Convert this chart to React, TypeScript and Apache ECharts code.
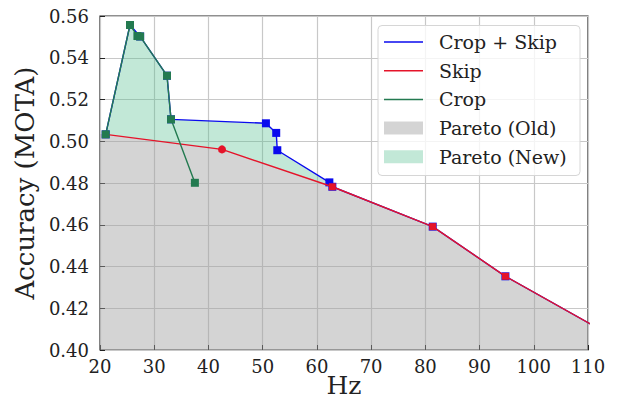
import React, { useEffect, useRef } from "react";
import * as echarts from "echarts";

const xTicks = [20, 30, 40, 50, 60, 70, 80, 90, 100, 110];
const yTicks = [0.4, 0.42, 0.44, 0.46, 0.48, 0.5, 0.52, 0.54, 0.56];

const cropSkipX = [21.05, 25.53, 27.4, 32.36, 33.1, 50.6, 52.5, 52.7, 62.3, 62.85, 81.36, 94.77, 115];
const cropSkipY = [0.5033, 0.5557, 0.5502, 0.5314, 0.5105, 0.5086, 0.504, 0.4957, 0.4803, 0.4782, 0.4591, 0.4353, 0.4058];

const skipX = [21.05, 42.5, 62.85, 81.36, 94.77, 115];
const skipY = [0.5033, 0.4961, 0.4782, 0.4591, 0.4353, 0.4058];
const skipMarkers = ["none", "circle", "rect", "rect", "rect", "rect"];

const cropX = [21.05, 25.53, 26.9, 27.4, 32.36, 33.1, 37.5];
const cropY = [0.5033, 0.5557, 0.5504, 0.5502, 0.5314, 0.5105, 0.4801];

const paretoOldX = [20, 21.05, 42.5, 62.85, 81.36, 94.77, 115];
const paretoOldY = [0.5035, 0.5033, 0.4961, 0.4782, 0.4591, 0.4353, 0.4058];

const paretoNewX = [21.05, 25.53, 27.4, 32.36, 33.1, 50.6, 52.5, 52.7, 62.3, 62.85];
const paretoNewY = [0.5033, 0.5557, 0.5502, 0.5314, 0.5105, 0.5086, 0.504, 0.4957, 0.4803, 0.4782];

const legendLabels = ["Crop + Skip", "Skip", "Crop", "Pareto (Old)", "Pareto (New)"];
const xTitle = "Hz";

const BLUE = "#0a0aee";
const RED = "#e5142a";
const GREEN = "#237a50";
const GRAY_FILL = "rgba(160,160,160,0.45)";
const GREEN_FILL = "rgba(80,190,140,0.35)";
const FONT = "DejaVu Serif";

function zip(xs: number[], ys: number[]) {
  return xs.map((x, i) => [x, ys[i]]);
}

export default function App() {
  const ref = useRef<HTMLDivElement>(null);
  useEffect(() => {
    if (!ref.current) return;
    const chart = echarts.init(ref.current, null, { renderer: "svg" });

    const oldPts = zip(paretoOldX, paretoOldY);
    const newPts = zip(paretoNewX, paretoNewY);
    const oldSegment = oldPts.filter((p) => p[0] >= paretoNewX[0] && p[0] <= paretoNewX[paretoNewX.length - 1]);

    const legendEls: any[] = [
      {
        type: "rect",
        shape: { x: 378, y: 25.5, width: 202, height: 150, r: 4 },
        style: { fill: "rgba(255,255,255,0.8)", stroke: "#d6d6d6", lineWidth: 1 },
        z: 100,
      },
      {
        type: "text",
        z: 101,
        x: 344,
        y: 385,
        style: { text: xTitle, font: `25px "${FONT}"`, fill: "#222", verticalAlign: "middle", align: "center" },
      },
    ];
    legendLabels.forEach((label, i) => {
      const cy = 42 + i * 28.7;
      if (i < 3) {
        const col = [BLUE, RED, GREEN][i];
        legendEls.push({
          type: "line",
          z: 101,
          shape: { x1: 384, y1: cy, x2: 423, y2: cy },
          style: { stroke: col, lineWidth: 1.5 },
        });
      } else {
        legendEls.push({
          type: "rect",
          z: 101,
          shape: { x: 384, y: cy - 6.5, width: 39, height: 13 },
          style: { fill: i === 3 ? GRAY_FILL : GREEN_FILL },
        });
      }
      legendEls.push({
        type: "text",
        z: 101,
        x: 439,
        y: cy,
        style: { text: label, font: `19px "${FONT}"`, fill: "#222", verticalAlign: "middle", align: "left" },
      });
    });

    const option: any = {
      animation: false,
      grid: {
        left: 100,
        right: 35,
        top: 16,
        bottom: 52,
        outerBoundsMode: "none",
        containLabel: false,
        show: true,
        borderColor: "#222",
        borderWidth: 1.2,
        backgroundColor: "transparent",
      },
      xAxis: {
        type: "value",
        min: 20,
        max: 110,
        interval: 10,
        axisLine: { show: false },
        axisTick: { show: true, inside: true, length: 5, lineStyle: { color: "#222", width: 1 } },
        axisLabel: { fontFamily: FONT, fontSize: 18, color: "#222", margin: 7, formatter: (v: number) => (xTicks.includes(v) ? String(v) : "") },
        splitLine: { show: true, lineStyle: { color: "#c8c8c8", width: 1.2 } },
      },
      yAxis: {
        type: "value",
        min: 0.4,
        max: 0.56,
        interval: 0.02,
        name: "Accuracy (MOTA)",
        nameLocation: "middle",
        nameGap: 60,
        nameTextStyle: { fontFamily: FONT, fontSize: 26, color: "#222" },
        axisLine: { show: false },
        axisTick: { show: true, inside: true, length: 5, lineStyle: { color: "#222", width: 1 } },
        axisLabel: {
          fontFamily: FONT,
          fontSize: 18,
          color: "#222",
          margin: 11,
          formatter: (v: number) => {
            const t = yTicks.find((y) => Math.abs(y - v) < 1e-6);
            return t === undefined ? "" : t.toFixed(2);
          },
        },
        splitLine: { show: true, lineStyle: { color: "#c8c8c8", width: 1.2 } },
      },
      graphic: legendEls,
      series: [
        {
          type: "custom",
          name: "Pareto (Old)",
          clip: true,
          z: 1,
          data: [[20, 0.4]],
          renderItem: (params: any, api: any) => {
            const pts = oldPts.map((p) => api.coord(p));
            pts.push(api.coord([paretoOldX[paretoOldX.length - 1], 0.4]));
            pts.push(api.coord([paretoOldX[0], 0.4]));
            return { type: "polygon", shape: { points: pts }, style: { fill: GRAY_FILL } };
          },
        },
        {
          type: "custom",
          name: "Pareto (New)",
          clip: true,
          z: 1,
          data: [[20, 0.4]],
          renderItem: (params: any, api: any) => {
            const pts = newPts.map((p) => api.coord(p));
            const back = oldSegment.slice().reverse().map((p) => api.coord(p));
            return { type: "polygon", shape: { points: pts.concat(back) }, style: { fill: GREEN_FILL } };
          },
        },
        {
          type: "line",
          name: "Crop + Skip",
          z: 3,
          clip: true,
          data: zip(cropSkipX, cropSkipY),
          symbol: "rect",
          symbolSize: 8,
          showAllSymbol: true,
          lineStyle: { color: BLUE, width: 1.4 },
          itemStyle: { color: BLUE },
        },
        {
          type: "line",
          name: "Skip",
          z: 4,
          clip: true,
          data: zip(skipX, skipY).map((p, i) => ({
            value: p,
            symbol: skipMarkers[i],
            symbolSize: skipMarkers[i] === "circle" ? 8 : 7,
          })),
          showAllSymbol: true,
          lineStyle: { color: RED, width: 1.4 },
          itemStyle: { color: RED },
        },
        {
          type: "line",
          name: "Crop",
          z: 5,
          clip: true,
          data: zip(cropX, cropY),
          symbol: "rect",
          symbolSize: 8,
          showAllSymbol: true,
          lineStyle: { color: GREEN, width: 1.4 },
          itemStyle: { color: GREEN },
        },
      ],
    };
    chart.setOption(option);
    return () => chart.dispose();
  }, []);
  return <div ref={ref} style={{ position: "absolute", left: 0, top: 0, width: 623, height: 402 }} />;
}
